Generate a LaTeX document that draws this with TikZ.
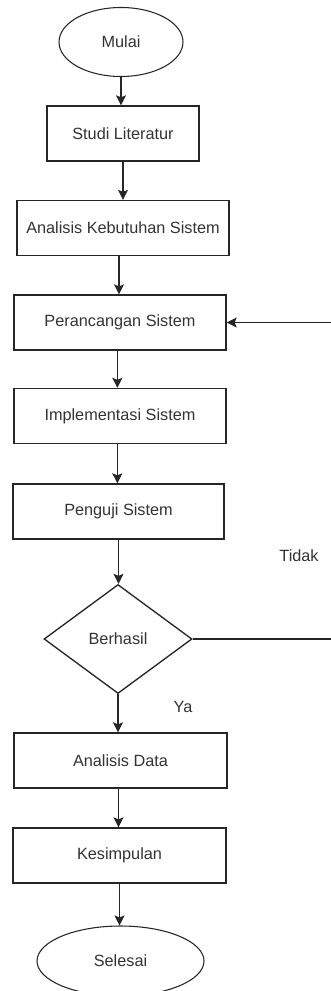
\documentclass[tikz,border=0pt]{standalone}
\usepackage{fontspec}
\setmainfont{Liberation Sans}
\usetikzlibrary{arrows.meta,shapes.geometric}
\definecolor{Ink}{HTML}{262626}
\definecolor{Txt}{HTML}{333333}
\tikzset{
  proc/.style={draw=Ink,line width=1pt,minimum width=212pt*.75,minimum height=55pt*.75,inner sep=0pt,align=center,font=\fontsize{12.2}{14}\selectfont,text=Txt},
  term/.style={draw=Ink,line width=.8pt,ellipse,inner sep=0pt,align=center,font=\fontsize{12.2}{14}\selectfont,text=Txt},
  cek/.style={draw=Ink,line width=1pt,diamond,inner sep=0pt,minimum width=148pt*.75,minimum height=109pt*.75,font=\fontsize{12.2}{14}\selectfont,text=Txt},
  lbl/.style={font=\fontsize{12.2}{14}\selectfont,text=Txt},
  arr/.style={-{Stealth[length=7.5pt,width=7.5pt,inset=1.5pt]},draw=Ink,line width=1.1pt},
}
\begin{document}
\begin{tikzpicture}[x=.75pt,y=-.75pt]
  \useasboundingbox (0,0) rectangle (331,991);
  \node[term,minimum width=124pt*.75,minimum height=69pt*.75] (mulai) at (121,42) {Mulai};
  \node[proc,minimum width=152pt*.75] (studi) at (123,133.5) {Studi Literatur};
  \node[proc] (butuh) at (123,228) {Analisis Kebutuhan Sistem};
  \node[proc] (rancang) at (120,322.5) {Perancangan Sistem};
  \node[proc] (impl) at (120,416) {Implementasi Sistem};
  \node[proc,minimum width=211pt*.75] (uji) at (118.5,511.5) {Penguji Sistem};
  \node[cek] (hasil) at (118,639) {Berhasil};
  \node[proc,minimum width=213pt*.75] (data) at (120.5,760.5) {Analisis Data};
  \node[proc,minimum width=213pt*.75] (simpul) at (119.5,855.5) {Kesimpulan};
  \node[term,minimum width=167pt*.75,minimum height=70pt*.75] (selesai) at (120.5,961) {Selesai};
  \node[lbl] (tidak) at (299,556) {Tidak};
  \node[lbl] (ya) at (183,707) {Ya};
  % alur utama
  \draw[arr] (mulai.south) -- (mulai.south |- studi.north);
  \draw[arr] (studi.south) -- (studi.south |- butuh.north);
  \draw[arr] ([xshift=-3pt]butuh.south) -- ([xshift=-3pt]butuh.south |- rancang.north);
  \draw[arr] ([xshift=-2pt]rancang.south) -- ([xshift=-2pt]rancang.south |- impl.north);
  \draw[arr] ([xshift=-2pt]impl.south) -- ([xshift=-2pt]impl.south |- uji.north);
  \draw[arr] (uji.south) -- (uji.south |- hasil.north);
  \draw[arr] (hasil.south) -- (hasil.south |- data.north);
  \draw[arr] ([xshift=-1.5pt]data.south) -- ([xshift=-1.5pt]data.south |- simpul.north);
  \draw[arr] (simpul.south) -- (simpul.south |- selesai.north);
  % kembali ke perancangan
  \coordinate (balik) at (336,639);
  \draw[arr] (hasil.east) -- (balik) |- (rancang.east);
\end{tikzpicture}
\end{document}
